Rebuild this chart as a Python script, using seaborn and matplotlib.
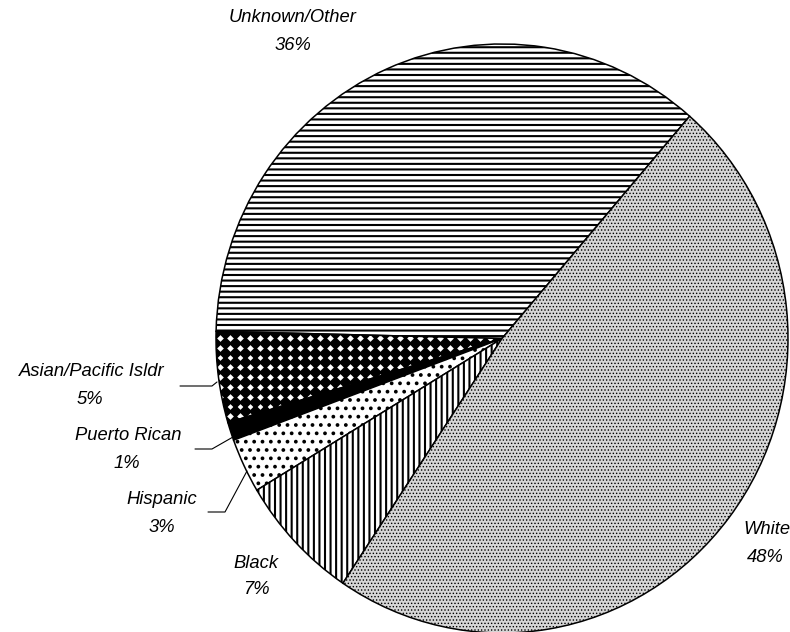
import numpy as np
import matplotlib
matplotlib.use("Agg")
import matplotlib.pyplot as plt
import seaborn as sns

# Share of cases by race / ethnicity (percent)
categories = ["Unknown/Other", "Asian/Pacific Isldr", "Puerto Rican", "Hispanic", "Black", "White"]
shares = [36, 5, 1, 3, 7, 48]

sns.set_theme(style="white")
plt.rcParams["font.family"] = ["Liberation Sans", "DejaVu Sans"]
plt.rcParams["hatch.linewidth"] = 1.5

W, H = 790, 632
fig = plt.figure(figsize=(W / 100, H / 100), dpi=100)
ax = fig.add_axes([0, 0, 1, 1])

# pie geometry in pixels (slightly taller than wide)
CX, CY, RX, RY = 502, 338.5, 286, 294.5


def px(x, y):
    """pixel position (from top-left) -> data coords of the unit pie"""
    return (x - CX) / RX, (CY - y) / RY


hatches = ["---", "", "", "..", "|||", "....."]
faces = ["white", "white", "black", "white", "white", "#d6d6d6"]

wedges, _ = ax.pie(shares, startangle=49, counterclock=True, radius=1,
                   colors=faces,
                   wedgeprops=dict(edgecolor="black", linewidth=1.1))
for w, h in zip(wedges, hatches):
    w.set_hatch(h)
# finer stipple on the largest wedge
try:
    wedges[5].set_hatch_linewidth(0.6)
except AttributeError:
    pass

ax.set_aspect("auto")
ax.set_xlim(px(0, 0)[0], px(W, 0)[0])
ax.set_ylim(px(0, H)[1], px(0, 0)[1])
ax.axis("off")

# diamond fill for the Asian/Pacific Islander wedge
asian = wedges[1]
gx, gy = np.meshgrid(np.arange(205, 510, 10.0), np.arange(333, 440, 9.8))
dx, dy = px(gx.ravel(), gy.ravel())
dots = ax.scatter(dx, dy, marker="D", s=46, c="black", linewidths=0, zorder=3)
dots.set_clip_path(asian)

fs = 13.2
lab = dict(fontsize=fs, style="italic", color="black", ha="center", va="center")


def label(x, y, text):
    ax.text(*px(x, y), text, **lab)


label(293, 17, categories[0]); label(293, 46, f"{shares[0]}%")
label(92, 372, categories[1]); label(90, 399, f"{shares[1]}%")
label(128, 435, categories[2]); label(127, 463, f"{shares[2]}%")
label(162, 499, categories[3]); label(162, 527, f"{shares[3]}%")
label(256, 563, categories[4]); label(256, 590, f"{shares[4]}%")
label(767, 530, categories[5]); label(765, 558, f"{shares[5]}%")

# leader lines
leaders = [
    [(180, 386), (212, 386), (217, 382)],
    [(195, 449), (212, 449), (233, 437)],
    [(208, 512), (225, 512), (247, 471)],
]
for pts in leaders:
    xs, ys = zip(*[px(x, y) for x, y in pts])
    ax.plot(xs, ys, color="black", linewidth=0.8)

fig.savefig("out.png", dpi=100)
